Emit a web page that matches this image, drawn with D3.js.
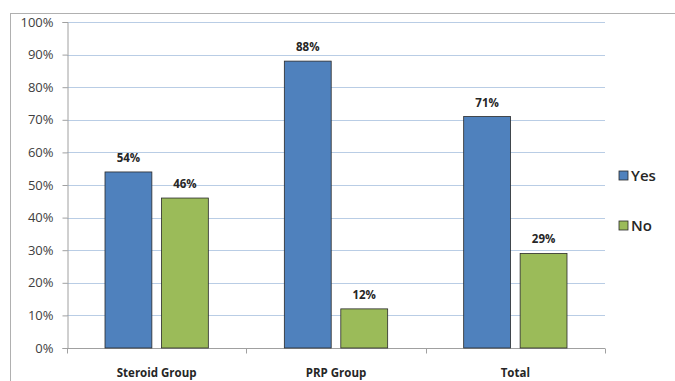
<!doctype html>
<html lang="en">
<head>
  <style>
    body { margin: 0; background: #fff; }
    .tick-label { font: 13px "Open Sans", sans-serif; fill: #404040; }
    .cat-label { font: bold 11.5px "Open Sans", sans-serif; fill: #262626; }
    .val-label { font: bold 11.5px "Open Sans", sans-serif; fill: #262626; }
    .legend-label { font: 600 15px "Open Sans", sans-serif; fill: #262626; }
  </style>
  <script src="https://d3js.org/d3.v7.min.js"></script>
</head>
<body>
  <script>
    const categories = ["Steroid Group", "PRP Group", "Total"];
    const series = ["Yes", "No"];
    const yesValues = [54, 88, 71];
    const noValues = [46, 12, 29];
    const yTicks = [0, 10, 20, 30, 40, 50, 60, 70, 80, 90, 100];
    const colors = ["#4F81BD", "#9BBB59"];

    const data = categories.map((c, i) => ({ cat: c, values: [yesValues[i], noValues[i]] }));

    const svg = d3.select("body").append("svg")
      .attr("width", 675).attr("height", 381);

    // outer frame (partially visible)
    svg.append("line").attr("x1", 10).attr("x2", 675).attr("y1", 13.5).attr("y2", 13.5)
      .attr("stroke", "#b0b0b0");
    svg.append("line").attr("x1", 10.5).attr("x2", 10.5).attr("y1", 13).attr("y2", 381)
      .attr("stroke", "#b0b0b0");

    const plotLeft = 67, plotRight = 605, plotTop = 22, plotBottom = 348;

    const x = d3.scaleBand().domain(categories).range([plotLeft, plotRight]).paddingInner(0).paddingOuter(0);
    const x1 = d3.scaleBand().domain(series).range([38, x.bandwidth() - 38]).paddingInner(0.17);
    const y = d3.scaleLinear().domain([0, 100]).range([plotBottom, plotTop]);

    // gridlines
    svg.append("g").selectAll("line").data(yTicks.filter(d => d > 0)).join("line")
      .attr("x1", plotLeft).attr("x2", plotRight)
      .attr("y1", d => Math.round(y(d)) + 0.5).attr("y2", d => Math.round(y(d)) + 0.5)
      .attr("stroke", "#B9CDE5").attr("stroke-width", 1.2);

    // y axis
    const yAxis = svg.append("g").attr("transform", `translate(${plotLeft + 0.5},0)`)
      .call(d3.axisLeft(y).tickValues(yTicks).tickFormat(d => d + "%").tickSize(5).tickPadding(9));
    yAxis.select(".domain").attr("stroke", "#a0a0a0");
    yAxis.selectAll(".tick line").attr("stroke", "#a0a0a0");
    yAxis.selectAll(".tick text").attr("class", "tick-label").attr("fill", null);

    // x axis
    const xAxis = svg.append("g").attr("transform", `translate(0,${plotBottom + 0.5})`);
    xAxis.append("line").attr("x1", plotLeft).attr("x2", plotRight).attr("stroke", "#a0a0a0");
    xAxis.selectAll(".xt").data(d3.range(categories.length + 1)).join("line")
      .attr("x1", i => Math.round(plotLeft + i * x.bandwidth()) + 0.5)
      .attr("x2", i => Math.round(plotLeft + i * x.bandwidth()) + 0.5)
      .attr("y1", 0).attr("y2", 5).attr("stroke", "#a0a0a0");
    svg.selectAll(".cat-label").data(categories).join("text")
      .attr("class", "cat-label")
      .attr("x", d => x(d) + x.bandwidth() / 2)
      .attr("y", 377)
      .attr("text-anchor", "middle")
      .text(d => d);

    // bars
    const groups = svg.selectAll(".grp").data(data).join("g")
      .attr("transform", d => `translate(${x(d.cat)},0)`);
    groups.selectAll("rect").data(d => d.values.map((v, i) => ({ s: series[i], v, i }))).join("rect")
      .attr("x", d => x1(d.s))
      .attr("y", d => y(d.v))
      .attr("width", x1.bandwidth())
      .attr("height", d => plotBottom - y(d.v))
      .attr("fill", d => colors[d.i])
      .attr("stroke", "#2a2a2a").attr("stroke-width", 0.8);
    groups.selectAll(".val-label").data(d => d.values.map((v, i) => ({ s: series[i], v, i }))).join("text")
      .attr("class", "val-label")
      .attr("x", d => x1(d.s) + x1.bandwidth() / 2)
      .attr("y", d => y(d.v) - 10)
      .attr("text-anchor", "middle")
      .text(d => d.v + "%");

    // legend
    const legend = svg.selectAll(".leg").data(series).join("g")
      .attr("transform", (d, i) => `translate(619,${171 + i * 50})`);
    legend.append("rect").attr("width", 9).attr("height", 9)
      .attr("fill", (d, i) => colors[i]).attr("stroke", "#2a2a2a").attr("stroke-width", 0.8);
    legend.append("text").attr("class", "legend-label")
      .attr("x", 12).attr("y", 10).text(d => d);
  </script>
</body>
</html>
